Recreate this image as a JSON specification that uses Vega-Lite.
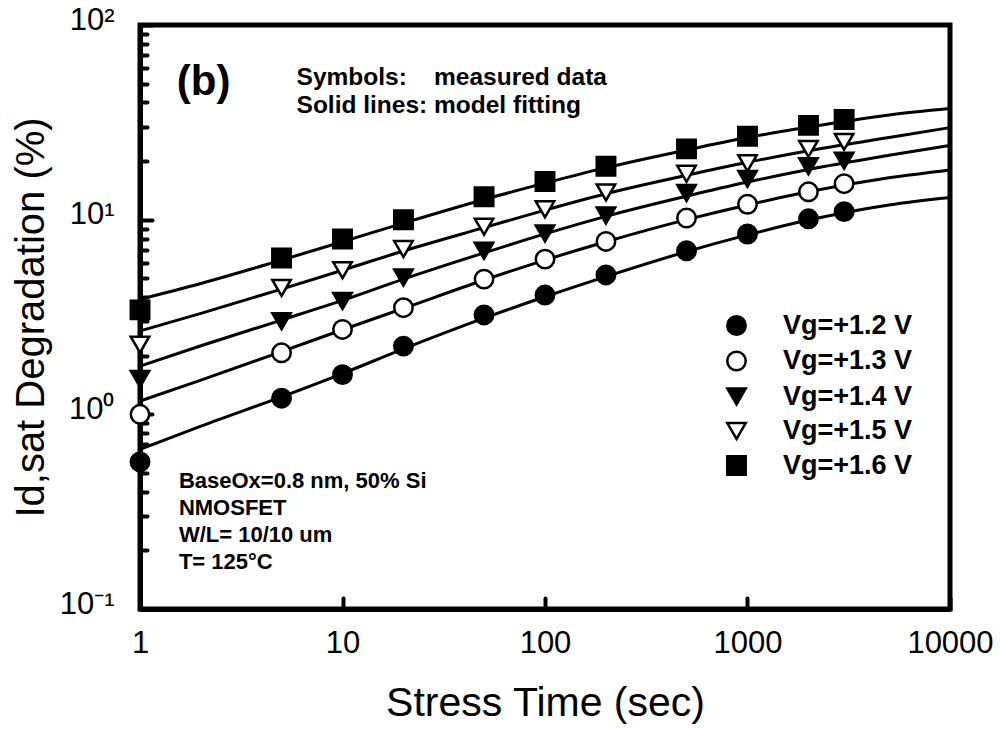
{
  "$schema": "https://vega.github.io/schema/vega-lite/v6.json",
  "width": 810,
  "height": 584,
  "autosize": {"type": "none"},
  "padding": {"left": 140, "top": 25, "right": 50, "bottom": 120},
  "background": "white",
  "datasets": {
    "pts": [
      {"s": "Vg=+1.2 V", "t": 1, "v": 0.57}, {"s": "Vg=+1.2 V", "t": 5, "v": 1.21}, {"s": "Vg=+1.2 V", "t": 10, "v": 1.6}, {"s": "Vg=+1.2 V", "t": 20, "v": 2.24}, {"s": "Vg=+1.2 V", "t": 50, "v": 3.24}, {"s": "Vg=+1.2 V", "t": 100, "v": 4.1}, {"s": "Vg=+1.2 V", "t": 200, "v": 5.2}, {"s": "Vg=+1.2 V", "t": 500, "v": 6.92}, {"s": "Vg=+1.2 V", "t": 1000, "v": 8.44}, {"s": "Vg=+1.2 V", "t": 2000, "v": 10.1}, {"s": "Vg=+1.2 V", "t": 3000, "v": 11.0},
      {"s": "Vg=+1.3 V", "t": 1, "v": 1.0}, {"s": "Vg=+1.3 V", "t": 5, "v": 2.07}, {"s": "Vg=+1.3 V", "t": 10, "v": 2.73}, {"s": "Vg=+1.3 V", "t": 20, "v": 3.53}, {"s": "Vg=+1.3 V", "t": 50, "v": 4.95}, {"s": "Vg=+1.3 V", "t": 100, "v": 6.27}, {"s": "Vg=+1.3 V", "t": 200, "v": 7.73}, {"s": "Vg=+1.3 V", "t": 500, "v": 10.2}, {"s": "Vg=+1.3 V", "t": 1000, "v": 12.0}, {"s": "Vg=+1.3 V", "t": 2000, "v": 13.9}, {"s": "Vg=+1.3 V", "t": 3000, "v": 15.3},
      {"s": "Vg=+1.4 V", "t": 1, "v": 1.52}, {"s": "Vg=+1.4 V", "t": 5, "v": 3.01}, {"s": "Vg=+1.4 V", "t": 10, "v": 3.82}, {"s": "Vg=+1.4 V", "t": 20, "v": 5.04}, {"s": "Vg=+1.4 V", "t": 50, "v": 6.92}, {"s": "Vg=+1.4 V", "t": 100, "v": 8.5}, {"s": "Vg=+1.4 V", "t": 200, "v": 10.5}, {"s": "Vg=+1.4 V", "t": 500, "v": 13.7}, {"s": "Vg=+1.4 V", "t": 1000, "v": 16.2}, {"s": "Vg=+1.4 V", "t": 2000, "v": 18.8}, {"s": "Vg=+1.4 V", "t": 3000, "v": 20.1},
      {"s": "Vg=+1.5 V", "t": 1, "v": 2.28}, {"s": "Vg=+1.5 V", "t": 5, "v": 4.46}, {"s": "Vg=+1.5 V", "t": 10, "v": 5.5}, {"s": "Vg=+1.5 V", "t": 20, "v": 7.06}, {"s": "Vg=+1.5 V", "t": 50, "v": 9.2}, {"s": "Vg=+1.5 V", "t": 100, "v": 11.3}, {"s": "Vg=+1.5 V", "t": 200, "v": 13.8}, {"s": "Vg=+1.5 V", "t": 500, "v": 17.2}, {"s": "Vg=+1.5 V", "t": 1000, "v": 19.5}, {"s": "Vg=+1.5 V", "t": 2000, "v": 23.1}, {"s": "Vg=+1.5 V", "t": 3000, "v": 25.1},
      {"s": "Vg=+1.6 V", "t": 1, "v": 3.44}, {"s": "Vg=+1.6 V", "t": 5, "v": 6.35}, {"s": "Vg=+1.6 V", "t": 10, "v": 7.95}, {"s": "Vg=+1.6 V", "t": 20, "v": 10.0}, {"s": "Vg=+1.6 V", "t": 50, "v": 13.1}, {"s": "Vg=+1.6 V", "t": 100, "v": 15.7}, {"s": "Vg=+1.6 V", "t": 200, "v": 18.8}, {"s": "Vg=+1.6 V", "t": 500, "v": 23.1}, {"s": "Vg=+1.6 V", "t": 1000, "v": 26.8}, {"s": "Vg=+1.6 V", "t": 2000, "v": 30.5}, {"s": "Vg=+1.6 V", "t": 3000, "v": 32.7}
    ],
    "fit": [
      {"s": "1.2", "t": 1, "v": 0.66}, {"s": "1.2", "t": 2, "v": 0.87}, {"s": "1.2", "t": 5, "v": 1.23}, {"s": "1.2", "t": 10, "v": 1.62}, {"s": "1.2", "t": 20, "v": 2.17}, {"s": "1.2", "t": 50, "v": 3.12}, {"s": "1.2", "t": 100, "v": 4.02}, {"s": "1.2", "t": 200, "v": 5.1}, {"s": "1.2", "t": 500, "v": 6.85}, {"s": "1.2", "t": 1000, "v": 8.35}, {"s": "1.2", "t": 2000, "v": 9.95}, {"s": "1.2", "t": 5000, "v": 11.9}, {"s": "1.2", "t": 10000, "v": 13.0},
      {"s": "1.3", "t": 1, "v": 1.17}, {"s": "1.3", "t": 2, "v": 1.5}, {"s": "1.3", "t": 5, "v": 2.1}, {"s": "1.3", "t": 10, "v": 2.72}, {"s": "1.3", "t": 20, "v": 3.5}, {"s": "1.3", "t": 50, "v": 4.9}, {"s": "1.3", "t": 100, "v": 6.2}, {"s": "1.3", "t": 200, "v": 7.7}, {"s": "1.3", "t": 500, "v": 10.0}, {"s": "1.3", "t": 1000, "v": 11.9}, {"s": "1.3", "t": 2000, "v": 13.9}, {"s": "1.3", "t": 5000, "v": 16.4}, {"s": "1.3", "t": 10000, "v": 18.0},
      {"s": "1.4", "t": 1, "v": 1.77}, {"s": "1.4", "t": 2, "v": 2.25}, {"s": "1.4", "t": 5, "v": 3.05}, {"s": "1.4", "t": 10, "v": 3.85}, {"s": "1.4", "t": 20, "v": 4.95}, {"s": "1.4", "t": 50, "v": 6.75}, {"s": "1.4", "t": 100, "v": 8.45}, {"s": "1.4", "t": 200, "v": 10.4}, {"s": "1.4", "t": 500, "v": 13.2}, {"s": "1.4", "t": 1000, "v": 15.6}, {"s": "1.4", "t": 2000, "v": 18.1}, {"s": "1.4", "t": 5000, "v": 21.4}, {"s": "1.4", "t": 10000, "v": 24.1},
      {"s": "1.5", "t": 1, "v": 2.68}, {"s": "1.5", "t": 2, "v": 3.3}, {"s": "1.5", "t": 5, "v": 4.4}, {"s": "1.5", "t": 10, "v": 5.5}, {"s": "1.5", "t": 20, "v": 6.9}, {"s": "1.5", "t": 50, "v": 9.1}, {"s": "1.5", "t": 100, "v": 11.2}, {"s": "1.5", "t": 200, "v": 13.6}, {"s": "1.5", "t": 500, "v": 16.9}, {"s": "1.5", "t": 1000, "v": 19.7}, {"s": "1.5", "t": 2000, "v": 22.6}, {"s": "1.5", "t": 5000, "v": 26.4}, {"s": "1.5", "t": 10000, "v": 29.7},
      {"s": "1.6", "t": 1, "v": 3.9}, {"s": "1.6", "t": 2, "v": 4.7}, {"s": "1.6", "t": 5, "v": 6.2}, {"s": "1.6", "t": 10, "v": 7.7}, {"s": "1.6", "t": 20, "v": 9.6}, {"s": "1.6", "t": 50, "v": 12.7}, {"s": "1.6", "t": 100, "v": 15.4}, {"s": "1.6", "t": 200, "v": 18.5}, {"s": "1.6", "t": 500, "v": 22.8}, {"s": "1.6", "t": 1000, "v": 26.4}, {"s": "1.6", "t": 2000, "v": 29.9}, {"s": "1.6", "t": 5000, "v": 34.5}, {"s": "1.6", "t": 10000, "v": 37.2}
    ]
  },
  "encoding": {
    "x": {
      "field": "t", "type": "quantitative",
      "scale": {"type": "log", "domain": [1, 10000], "nice": false},
      "axis": {
        "values": [1, 10, 100, 1000, 10000],
        "format": "d",
        "title": "Stress Time (sec)",
        "titleFontSize": 41,
        "titlePadding": 25,
        "labelFontSize": 31,
        "labelPadding": 30,
        "tickSize": -11,
        "labelFlush": false,
        "labelOverlap": false
      }
    },
    "y": {
      "field": "v", "type": "quantitative",
      "scale": {"type": "log", "domain": [0.1, 100], "nice": false},
      "axis": {
        "values": [0.1, 0.2, 0.3, 0.4, 0.5, 0.6, 0.7, 0.8, 0.9, 1, 2, 3, 4, 5, 6, 7, 8, 9, 10, 20, 30, 40, 50, 60, 70, 80, 90, 100],
        "labelExpr": "datum.value == 100 ? '10²' : datum.value == 10 ? '10¹' : datum.value == 1 ? '10⁰' : datum.value == 0.1 ? '10⁻¹' : ''",
        "title": "Id,sat Degradation (%)",
        "titleFontSize": 40,
        "titlePadding": 8,
        "labelFontSize": 31,
        "labelPadding": 38,
        "labelBaseline": "alphabetic",
        "labelOffset": 4,
        "labelOverlap": false,
        "labelFlush": false,
        "tickSize": {"condition": {"test": "datum.value == 100 || datum.value == 10 || datum.value == 1 || datum.value == 0.1", "value": -12}, "value": -7}
      }
    }
  },
  "layer": [
    {
      "data": {"name": "fit"},
      "mark": {"type": "line", "color": "black", "strokeWidth": 3, "interpolate": "monotone"},
      "encoding": {"detail": {"field": "s", "type": "nominal"}}
    },
    {
      "data": {"name": "pts"},
      "mark": {"type": "point", "filled": true, "strokeWidth": 2.5, "size": 340, "opacity": 1},
      "encoding": {
        "shape": {
          "field": "s", "type": "nominal",
          "scale": {"domain": ["Vg=+1.2 V", "Vg=+1.3 V", "Vg=+1.4 V", "Vg=+1.5 V", "Vg=+1.6 V"], "range": ["circle", "circle", "triangle-down", "triangle-down", "square"]},
          "legend": {"title": null}
        },
        "fill": {
          "field": "s", "type": "nominal",
          "scale": {"domain": ["Vg=+1.2 V", "Vg=+1.3 V", "Vg=+1.4 V", "Vg=+1.5 V", "Vg=+1.6 V"], "range": ["black", "white", "black", "white", "black"]},
          "legend": {"title": null}
        },
        "stroke": {
          "field": "s", "type": "nominal",
          "scale": {"domain": ["Vg=+1.2 V", "Vg=+1.3 V", "Vg=+1.4 V", "Vg=+1.5 V", "Vg=+1.6 V"], "range": ["black", "black", "black", "black", "black"]},
          "legend": {"title": null}
        }
      }
    },
    {
      "data": {"values": [{"t": 1.52, "v": 43.6, "txt": "(b)"}]},
      "mark": {"type": "text", "font": "Liberation Sans", "fontSize": 42, "fontWeight": "bold", "align": "left", "baseline": "alphabetic", "color": "black"},
      "encoding": {"text": {"field": "txt"}}
    },
    {
      "data": {"values": [{"t": 5.93, "v": 49.1, "txt": "Symbols:\u00a0\u00a0\u00a0 measured data\nSolid lines: model fitting"}]},
      "mark": {"type": "text", "font": "Liberation Sans", "fontSize": 24.5, "fontWeight": "bold", "align": "left", "baseline": "alphabetic", "lineBreak": "\n", "lineHeight": 28, "color": "black"},
      "encoding": {"text": {"field": "txt"}}
    },
    {
      "data": {"values": [{"t": 1.556, "v": 0.42, "txt": "BaseOx=0.8 nm, 50% Si\nNMOSFET\nW/L= 10/10 um\nT= 125°C"}]},
      "mark": {"type": "text", "font": "Liberation Sans", "fontSize": 22, "fontWeight": "bold", "align": "left", "baseline": "alphabetic", "lineBreak": "\n", "lineHeight": 27, "color": "black"},
      "encoding": {"text": {"field": "txt"}}
    }
  ],
  "config": {
    "font": "Liberation Sans",
    "view": {"stroke": "black", "strokeWidth": 5},
    "axis": {
      "grid": false,
      "domainColor": "black",
      "domainWidth": 5,
      "tickColor": "black",
      "tickWidth": 4,
      "tickCap": "round",
      "labelColor": "black",
      "titleColor": "black",
      "labelFont": "Liberation Sans",
      "titleFont": "Liberation Sans",
      "titleFontWeight": "normal"
    },
    "legend": {
      "orient": "none",
      "legendX": 583,
      "legendY": 287,
      "padding": 0,
      "labelFont": "Liberation Sans",
      "labelFontSize": 27,
      "labelFontWeight": "bold",
      "labelColor": "black",
      "labelOffset": 33,
      "symbolSize": 340,
      "symbolStrokeWidth": 2.5,
      "rowPadding": 6.5
    }
  }
}
